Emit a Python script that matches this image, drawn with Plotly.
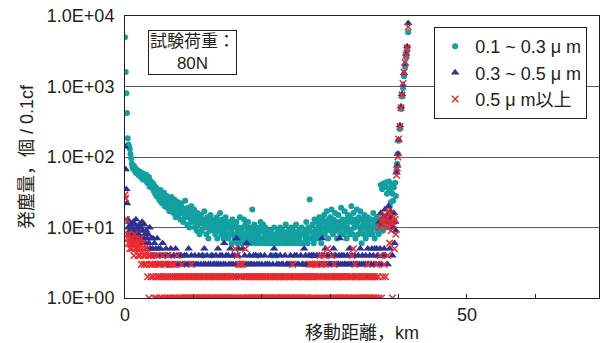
import numpy as np
import plotly.graph_objects as go

# Sampling positions along the travel distance (km): regular 0.1 km grid,
# followed by the closely spaced readings of the final rise.
flat_km = np.round(np.arange(0, 40.0, 0.1), 1).tolist()
rise_km = [40.0, 40.2, 40.35, 40.5, 40.65, 40.8, 40.95, 41.1, 41.25, 41.4]
distance_km = flat_km + rise_km

# Particle counts per 0.1 cf, 0.1-0.3 um (one row per km)
count_01_03 = [
    5000, 1600, 800, 420, 185, 150, 140, 130, 110, 95,
    80, 72, 68, 75, 64, 70, 60, 66, 58, 62,
    55, 63, 57, 52, 60, 54, 48, 58, 50, 53,
    47, 56, 44, 50, 42, 52, 38, 46, 40, 44,
    36, 42, 33, 39, 30, 37, 28, 35, 32, 26,
    30, 24, 34, 27, 22, 29, 25, 31, 20, 26,
    23, 28, 19, 25, 21, 17, 24, 20, 27, 18,
    22, 16, 25, 19, 14, 21, 18, 23, 15, 20,
    17, 13, 22, 16, 19, 12, 18, 15, 24, 14,
    16, 11, 19, 14, 10, 17, 13, 20, 12, 15,
    13, 18, 10, 15, 12, 9, 16, 11, 14, 8,
    12, 15, 9, 13, 4, 11, 17, 10, 12, 8,
    14, 10, 7, 12, 9, 15, 11, 4, 13, 10,
    9, 12, 8, 11, 14, 7, 10, 12, 9, 16,
    11, 8, 13, 10, 7, 12, 9, 14, 8, 11,
    10, 7, 12, 8, 11, 9, 6, 13, 8, 10,
    7, 11, 8, 12, 6, 9, 10, 7, 14, 8,
    9, 6, 10, 8, 13, 7, 11, 8, 6, 9,
    12, 8, 7, 10, 6, 8, 18, 9, 7, 11,
    8, 6, 9, 7, 4, 8, 10, 6, 12, 7,
    9, 7, 11, 6, 8, 10, 7, 6, 9, 8,
    6, 8, 7, 9, 6, 4, 8, 7, 10, 6,
    8, 4, 7, 6, 9, 8, 6, 10, 7, 8,
    6, 9, 7, 8, 6, 11, 7, 6, 8, 9,
    7, 8, 6, 10, 7, 6, 9, 8, 6, 7,
    11, 7, 8, 6, 9, 7, 6, 8, 10, 6,
    8, 6, 3, 9, 7, 12, 8, 6, 10, 7,
    25, 9, 7, 4, 11, 8, 6, 13, 9, 7,
    8, 12, 10, 7, 14, 9, 11, 6, 8, 13,
    10, 15, 8, 12, 9, 17, 11, 7, 13, 10,
    14, 9, 18, 11, 8, 13, 10, 16, 9, 12,
    7, 11, 15, 9, 12, 8, 19, 10, 13, 8,
    11, 17, 9, 13, 7, 10, 15, 12, 8, 14,
    9, 20, 12, 8, 16, 10, 13, 7, 11, 18,
    12, 8, 14, 10, 17, 9, 6, 13, 11, 8,
    15, 10, 7, 12, 9, 14, 11, 8, 13, 10,
    9, 13, 8, 16, 11, 7, 12, 10, 14, 9,
    11, 8, 13, 10, 40, 12, 35, 9, 42, 14,
    38, 10, 44, 30, 12, 36, 45, 20, 33, 23,
    41, 30, 24, 37, 12, 43, 28, 65, 80, 110,
    170, 250, 480, 720, 950, 1400, 1900, 2600, 3300, 5900,
]

# Particle counts per 0.1 cf, 0.3-0.5 um (one row per km)
count_03_05 = [
    140, 67, 35, 22, 13, 10, 12, 9, 11, 8,
    10, 7, 12, 9, 11, 8, 13, 7, 10, 9,
    8, 11, 7, 10, 6, 12, 9, 7, 11, 8,
    6, 9, 7, 5, 8, 6, 10, 5, 7, 4,
    5, 7, 4, 6, 3, 5, 4, 7, 3, 5,
    4, 3, 5, 2, 4, 6, 3, 4, 2, 3,
    5, 3, 4, 2, 3, 4, 2, 5, 3, 2,
    3, 4, 2, 3, 5, 2, 4, 3, 2, 4,
    2, 3, 4, 2, 3, 1, 3, 4, 2, 3,
    4, 2, 3, 5, 2, 3, 2, 4, 3, 2,
    3, 2, 4, 2, 3, 2, 1, 3, 4, 2,
    2, 3, 2, 4, 2, 3, 5, 2, 3, 2,
    4, 2, 3, 2, 1, 3, 2, 4, 2, 3,
    2, 3, 2, 4, 3, 2, 5, 3, 2, 4,
    3, 2, 4, 2, 3, 6, 2, 3, 4, 2,
    2, 4, 3, 2, 5, 3, 2, 4, 3, 2,
    4, 2, 3, 7, 2, 4, 5, 3, 2, 3,
    2, 3, 5, 2, 3, 4, 2, 3, 6, 2,
    3, 2, 4, 3, 2, 3, 1, 2, 4, 3,
    2, 4, 2, 3, 1, 2, 3, 2, 4, 2,
    3, 2, 1, 2, 4, 3, 2, 1, 3, 2,
    2, 3, 2, 4, 2, 1, 3, 2, 5, 2,
    4, 2, 3, 2, 1, 3, 2, 4, 2, 3,
    2, 3, 2, 1, 4, 2, 3, 2, 3, 2,
    3, 2, 4, 3, 2, 1, 3, 2, 4, 2,
    2, 4, 3, 2, 3, 2, 1, 4, 2, 3,
    3, 2, 5, 2, 4, 3, 2, 3, 2, 4,
    2, 3, 2, 4, 3, 2, 4, 3, 2, 3,
    4, 2, 3, 2, 4, 3, 2, 3, 7, 2,
    3, 4, 2, 5, 3, 2, 4, 3, 2, 3,
    2, 3, 4, 2, 3, 5, 2, 3, 4, 2,
    3, 2, 3, 4, 7, 3, 2, 4, 3, 2,
    4, 3, 2, 3, 2, 4, 3, 2, 5, 3,
    2, 3, 4, 2, 3, 2, 4, 3, 2, 3,
    3, 4, 2, 3, 5, 2, 3, 4, 2, 3,
    2, 3, 4, 2, 3, 5, 3, 2, 4, 3,
    3, 5, 2, 4, 3, 5, 2, 3, 5, 4,
    4, 3, 12, 5, 16, 3, 11, 4, 14, 5,
    18, 4, 12, 15, 3, 20, 13, 5, 17, 11,
    14, 4, 10, 16, 6, 12, 9, 60, 75, 110,
    175, 280, 520, 780, 1050, 1550, 2100, 2900, 3700, 7900,
]

# Particle counts per 0.1 cf, 0.5 um and larger (one row per km)
count_05_up = [
    29, 26, 13, 8, 7, 6, 8, 5, 7, 6,
    5, 7, 6, 4, 8, 5, 6, 7, 5, 4,
    6, 5, 4, 7, 3, 5, 6, 4, 3, 5,
    4, 3, 5, 2, 4, 1, 3, 4, 2, 3,
    3, 2, 4, 1, 3, 2, 1, 4, 2, 3,
    2, 1, 3, 2, 1, 4, 2, 3, 1, 2,
    3, 1, 2, 4, 1, 2, 3, 1, 2, 3,
    2, 1, 3, 1, 2, 1, 4, 2, 1, 2,
    1, 2, 1, 3, 2, 1, 2, 1, 2, 1,
    2, 1, 2, 1, 1, 2, 1, 3, 1, 2,
    1, 2, 1, 2, 1, 1, 2, 1, 2, 1,
    2, 1, 1, 2, 1, 2, 1, 2, 1, 1,
    1, 2, 1, 1, 2, 1, 2, 1, 1, 2,
    2, 1, 2, 1, 1, 2, 1, 1, 2, 1,
    1, 2, 1, 2, 1, 1, 2, 1, 2, 1,
    2, 1, 1, 2, 1, 2, 1, 1, 2, 1,
    1, 5, 2, 1, 4, 1, 3, 2, 1, 3,
    2, 1, 3, 1, 2, 1, 5, 1, 2, 1,
    1, 2, 1, 2, 1, 1, 2, 1, 2, 1,
    2, 1, 2, 1, 2, 1, 1, 2, 1, 2,
    1, 2, 1, 1, 2, 1, 2, 1, 1, 2,
    1, 1, 2, 1, 2, 1, 1, 2, 1, 2,
    2, 1, 1, 2, 1, 2, 1, 2, 1, 1,
    1, 2, 1, 1, 2, 1, 2, 1, 2, 1,
    2, 1, 2, 1, 1, 3, 1, 2, 1, 2,
    1, 2, 1, 2, 1, 1, 2, 1, 2, 1,
    2, 1, 2, 1, 2, 1, 1, 2, 1, 2,
    3, 2, 1, 2, 3, 1, 2, 1, 3, 2,
    1, 3, 2, 1, 2, 4, 1, 2, 3, 1,
    2, 4, 1, 3, 2, 1, 5, 2, 1, 2,
    1, 2, 4, 1, 2, 1, 3, 1, 2, 1,
    2, 1, 2, 1, 2, 1, 1, 2, 1, 2,
    1, 2, 1, 2, 1, 2, 1, 1, 2, 1,
    2, 1, 4, 2, 5, 1, 3, 2, 1, 2,
    1, 2, 1, 1, 2, 1, 2, 1, 2, 1,
    2, 1, 2, 1, 1, 3, 1, 2, 1, 2,
    1, 2, 1, 2, 1, 2, 1, 1, 3, 2,
    2, 1, 10, 4, 12, 1, 14, 2, 11, 3,
    15, 2, 13, 10, 4, 17, 12, 6, 16, 9,
    12, 1, 11, 14, 5, 13, 8, 55, 70, 100,
    180, 270, 500, 760, 1100, 1600, 2200, 2800, 3500, 7000,
]

series_names = ["0.1 ~ 0.3 μ m", "0.3 ~ 0.5 μ m", "0.5 μ m以上"]
y_tick_values = [1, 10, 100, 1000, 10000]
y_tick_labels = ["1.0E+00", "1.0E+01", "1.0E+02", "1.0E+03", "1.0E+04"]
x_tick_values = [0, 50]

FONT = "Liberation Sans, Arial, Noto Sans CJK JP, sans-serif"
INK = "#231f20"
TEAL = "#13a0a0"
NAVY = "#2e3192"
RED = "#ec2a2e"

fig = go.Figure()
fig.add_trace(go.Scatter(
    x=distance_km, y=count_01_03, mode="markers", name=series_names[0],
    marker=dict(symbol="circle", size=6, color=TEAL),
))
fig.add_trace(go.Scatter(
    x=distance_km, y=count_03_05, mode="markers", name=series_names[1],
    marker=dict(symbol="triangle-up", size=7.5, color=NAVY),
))
fig.add_trace(go.Scatter(
    x=distance_km, y=count_05_up, mode="markers", name=series_names[2],
    marker=dict(symbol="x-thin", size=6.5, color=RED,
                line=dict(color=RED, width=1.5)),
))

fig.update_layout(
    width=602, height=343,
    margin=dict(l=125, r=3, t=16, b=45),
    paper_bgcolor="white", plot_bgcolor="white",
    font=dict(family=FONT, size=18, color=INK),
    showlegend=True,
    legend=dict(
        x=0.975, xanchor="right", y=0.961, yanchor="top",
        bgcolor="white", bordercolor=INK, borderwidth=1,
        font=dict(family=FONT, size=18, color=INK),
        itemwidth=30, tracegroupgap=0,
    ),
    annotations=[dict(
        text="試験荷重：<br>80N",
        xref="paper", yref="paper", x=0.142, y=0.872,
        xanchor="center", yanchor="middle", showarrow=False,
        font=dict(family=FONT, size=17, color=INK),
        bgcolor="white", bordercolor=INK, borderwidth=1, borderpad=1,
    )],
)

fig.update_xaxes(
    range=[0, 69.3], tickvals=x_tick_values, ticktext=["0", "50"],
    showgrid=False, zeroline=False,
    showline=True, linecolor=INK, linewidth=1, mirror=True,
    ticks="inside", ticklen=4, tickcolor=INK,
    minor=dict(dtick=10, ticks="inside", ticklen=4, tickcolor=INK, showgrid=False),
    tickfont=dict(family=FONT, size=18, color=INK),
    title=dict(text="移動距離，km", standoff=6,
               font=dict(family=FONT, size=18, color=INK)),
    automargin=False,
)
fig.update_yaxes(
    type="log", range=[0, 4],
    tickvals=y_tick_values, ticktext=y_tick_labels,
    showgrid=True, gridcolor="#5a5a5a", gridwidth=1,
    zeroline=False,
    showline=True, linecolor=INK, linewidth=1, mirror=True,
    ticks="", ticklabelstandoff=6,
    tickfont=dict(family=FONT, size=18, color=INK),
    title=dict(text="発塵量，個 / 0.1cf", standoff=8,
               font=dict(family=FONT, size=18, color=INK)),
    automargin=False,
)

fig.write_html("out.html")
